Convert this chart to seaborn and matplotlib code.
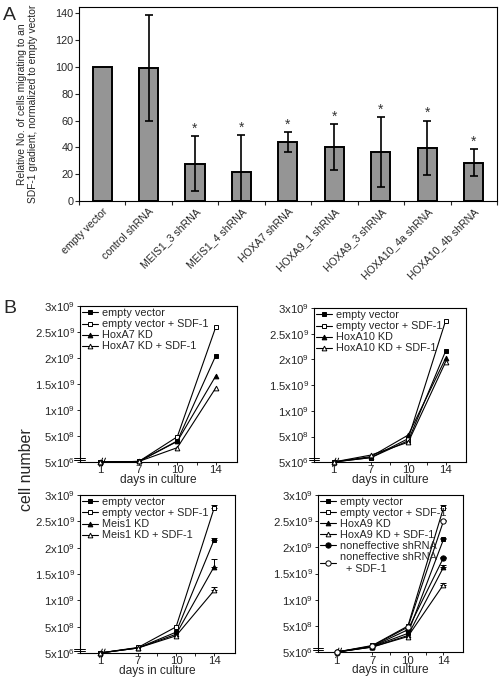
import numpy as np
import matplotlib
matplotlib.use('Agg')
import matplotlib.pyplot as plt
import seaborn as sns

sns.set_style('white')
plt.rcParams['font.family'] = ['Liberation Sans', 'DejaVu Sans']
plt.rcParams['mathtext.default'] = 'regular'

# ---- panel A data: migration towards SDF-1 ----
shrna = ['empty vector', 'control shRNA', 'MEIS1_3 shRNA', 'MEIS1_4 shRNA', 'HOXA7 shRNA',
         'HOXA9_1 shRNA', 'HOXA9_3 shRNA', 'HOXA10_4a shRNA', 'HOXA10_4b shRNA']
migration = [100, 99.3, 27.8, 21.8, 43.9, 40.2, 36.5, 39.7, 28.5]
migration_err = [0, 39.5, 20.7, 27.3, 7.5, 17.0, 26.0, 20.3, 10.2]
significant = [False, False, True, True, True, True, True, True, True]

# ---- panel B data: cell number over days in culture ----
days = [1, 7, 10, 14]

hoxa7_labels = ['empty vector', 'empty vector + SDF-1', 'HoxA7 KD', 'HoxA7 KD + SDF-1']
hoxa7_values = [[5e6, 1.5e7, 4.1e8, 2.05e9],
                [5e6, 1.5e7, 4.9e8, 2.60e9],
                [5e6, 1.5e7, 4.0e8, 1.66e9],
                [5e6, 1.5e7, 2.8e8, 1.43e9]]

hoxa10_labels = ['empty vector', 'empty vector + SDF-1', 'HoxA10 KD', 'HoxA10 KD + SDF-1']
hoxa10_values = [[5e6, 9e7, 4.2e8, 2.16e9],
                 [5e6, 9e7, 4.6e8, 2.75e9],
                 [5e6, 1.1e8, 5.3e8, 2.02e9],
                 [5e6, 1.4e8, 3.9e8, 1.95e9]]

meis1_labels = ['empty vector', 'empty vector + SDF-1', 'Meis1 KD', 'Meis1 KD + SDF-1']
meis1_values = [[5e6, 1.0e8, 4.0e8, 2.15e9],
                [5e6, 1.1e8, 5.0e8, 2.75e9],
                [5e6, 1.0e8, 3.6e8, 1.64e9],
                [5e6, 1.0e8, 3.3e8, 1.19e9]]
meis1_err14 = [0.03e9, 0.07e9, 0.14e9, 0.07e9]

hoxa9_labels = ['empty vector', 'empty vector + SDF-1', 'HoxA9 KD', 'HoxA9 KD + SDF-1',
                'noneffective shRNA', 'noneffective shRNA\n  + SDF-1']
hoxa9_values = [[5e6, 1.1e8, 3.6e8, 2.15e9],
                [5e6, 1.3e8, 5.0e8, 2.75e9],
                [5e6, 1.0e8, 3.2e8, 1.62e9],
                [5e6, 1.0e8, 3.0e8, 1.29e9],
                [5e6, 1.1e8, 4.3e8, 1.80e9],
                [5e6, 1.2e8, 4.8e8, 2.50e9]]
hoxa9_err14 = [0.03e9, 0.06e9, 0.05e9, 0.03e9, 0.02e9, 0.02e9]

cell_ticks = [5e6, 5e8, 1e9, 1.5e9, 2e9, 2.5e9, 3e9]
cell_tick_labels = ['5x10$^6$', '5x10$^8$', '1x10$^9$', '1.5x10$^9$', '2x10$^9$', '2.5x10$^9$', '3x10$^9$']

# marker, filled?
styles = [('s', True), ('s', False), ('^', True), ('^', False), ('o', True), ('o', False)]

fig = plt.figure(figsize=(4.99, 6.78), dpi=100)

# ---------------- panel A ----------------
axA = fig.add_axes([0.158, 0.7035, 0.838, 0.286])
sns.barplot(x=shrna, y=migration, color='#959595', edgecolor='black', linewidth=1.4,
            width=0.41, saturation=1, ax=axA)
pos = np.arange(len(shrna))
for i, (m, e) in enumerate(zip(migration, migration_err)):
    if e > 0:
        axA.errorbar(pos[i], m, yerr=e, fmt='none', ecolor='black', elinewidth=1.2,
                     capsize=3, capthick=1.2)
    if significant[i]:
        axA.text(pos[i], m + e + 0.3, '*', ha='center', va='bottom', fontsize=10, color='#333333')
axA.set_xlim(-0.5, len(shrna) - 0.5)
axA.set_ylim(0, 144.5)
axA.set_yticks(range(0, 141, 20))
axA.set_xticks(pos)
axA.set_xticks(np.arange(-0.5, len(shrna), 1), minor=True)
axA.set_xticklabels(shrna, rotation=45, ha='right', rotation_mode='anchor', fontsize=7.6)
axA.tick_params(axis='x', which='major', length=0, pad=4)
axA.tick_params(axis='x', which='minor', length=3, width=0.8, direction='out', bottom=True)
axA.tick_params(axis='y', length=3, width=0.8, direction='out', left=True, labelsize=7.8, pad=1)
for s in axA.spines.values():
    s.set_color('black')
    s.set_linewidth(0.8)
axA.set_ylabel('Relative No. of cells migrating to an\nSDF-1 gradient, normalized to empty vector',
               fontsize=7.4, linespacing=1.15)
axA.yaxis.set_label_coords(-0.097, 0.5)
fig.text(0.006, 0.99, 'A', fontsize=14, va='top', ha='left')


# ---------------- panel B ----------------
def growth_panel(rect, labels, values, err14=None):
    ax = fig.add_axes(rect)
    xpos = np.arange(len(days))
    for k, (lab, vals) in enumerate(zip(labels, values)):
        mk, filled = styles[k]
        sns.lineplot(x=xpos, y=vals, color='black', linewidth=0.8, marker=mk,
                     markersize=3.4 if mk != 'o' else 3.8,
                     markerfacecolor='black' if filled else 'white',
                     markeredgecolor='black', markeredgewidth=0.7,
                     label=lab, ax=ax, clip_on=False, zorder=3)
        if err14 is not None:
            ax.errorbar(xpos[-1], vals[-1], yerr=[[0], [err14[k]]], fmt='none',
                        ecolor='black', elinewidth=0.7, capsize=2, capthick=0.7)
    ax.set_xlim(-0.53, 3.55)
    ax.set_ylim(5e6, 3e9)
    ax.set_yticks(cell_ticks)
    ax.set_yticklabels(cell_tick_labels)
    ax.set_xticks(xpos)
    ax.set_xticklabels([str(d) for d in days])
    ax.set_xticks([1.5, 2.5], minor=True)
    ax.tick_params(axis='both', which='both', direction='out', length=2.5, width=0.7,
                   labelsize=8.2, pad=1, left=True, bottom=True)
    ax.tick_params(axis='x', pad=0)
    for s in ax.spines.values():
        s.set_color('black')
        s.set_linewidth(0.8)
    ax.set_xlabel('days in culture', fontsize=8.6, labelpad=-1)
    # axis breaks
    tr = ax.transAxes
    for dy in (0.012, 0.028):
        ax.plot([-0.035, 0.035], [dy, dy], transform=tr, color='black', lw=0.7, clip_on=False)
    for dx in (0.0, 0.018):
        ax.plot([0.125 + dx, 0.145 + dx], [-0.025, 0.025], transform=tr, color='black',
                lw=0.7, clip_on=False)
    ax.legend(loc='upper left', frameon=False, fontsize=7.8, handlelength=1.5,
              handletextpad=0.3, labelspacing=0.1, borderaxespad=0.1, borderpad=0.1)
    return ax


growth_panel([0.160, 0.3186, 0.315, 0.230], hoxa7_labels, hoxa7_values)
growth_panel([0.629, 0.3186, 0.305, 0.227], hoxa10_labels, hoxa10_values)
growth_panel([0.160, 0.0369, 0.311, 0.233], meis1_labels, meis1_values, meis1_err14)
growth_panel([0.637, 0.0383, 0.291, 0.232], hoxa9_labels, hoxa9_values, hoxa9_err14)

fig.text(0.054, 1 - 470 / 678, 'cell number', rotation=90, fontsize=11.5, ha='center', va='center')
fig.text(0.006, 1 - 300 / 678, 'B', fontsize=14, va='top', ha='left')

fig.savefig('out.png', dpi=100)
